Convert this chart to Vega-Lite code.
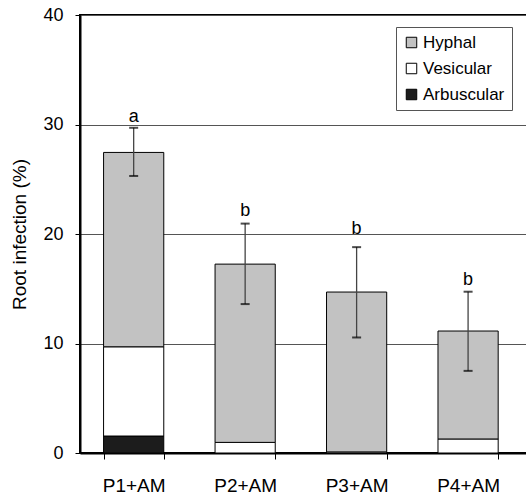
{
  "$schema": "https://vega.github.io/schema/vega-lite/v6.json",
  "width": 447,
  "height": 438,
  "autosize": "none",
  "padding": {"left": 80, "top": 15, "right": 0, "bottom": 42},
  "config": {
    "font": "Liberation Sans",
    "view": {"stroke": "#000", "strokeWidth": 2}
  },
  "datasets": {
    "parts": [
      {"treatment": "P1+AM", "type": "Arbuscular", "lo": 0, "hi": 1.55},
      {"treatment": "P1+AM", "type": "Vesicular", "lo": 1.55, "hi": 9.7},
      {"treatment": "P1+AM", "type": "Hyphal", "lo": 9.7, "hi": 27.45},
      {"treatment": "P2+AM", "type": "Arbuscular", "lo": 0, "hi": 0},
      {"treatment": "P2+AM", "type": "Vesicular", "lo": 0, "hi": 0.97},
      {"treatment": "P2+AM", "type": "Hyphal", "lo": 0.97, "hi": 17.25},
      {"treatment": "P3+AM", "type": "Arbuscular", "lo": 0, "hi": 0},
      {"treatment": "P3+AM", "type": "Vesicular", "lo": 0, "hi": 0.1},
      {"treatment": "P3+AM", "type": "Hyphal", "lo": 0.1, "hi": 14.7},
      {"treatment": "P4+AM", "type": "Arbuscular", "lo": 0, "hi": 0},
      {"treatment": "P4+AM", "type": "Vesicular", "lo": 0, "hi": 1.28},
      {"treatment": "P4+AM", "type": "Hyphal", "lo": 1.28, "hi": 11.14}
    ],
    "errs": [
      {"treatment": "P1+AM", "elo": 25.3, "ehi": 29.7, "letter": "a", "ly": 30.7},
      {"treatment": "P2+AM", "elo": 13.6, "ehi": 20.95, "letter": "b", "ly": 22.1},
      {"treatment": "P3+AM", "elo": 10.55, "ehi": 18.8, "letter": "b", "ly": 20.5},
      {"treatment": "P4+AM", "elo": 7.5, "ehi": 14.73, "letter": "b", "ly": 15.8}
    ]
  },
  "encoding": {
    "x": {
      "field": "treatment",
      "type": "nominal",
      "sort": ["P1+AM", "P2+AM", "P3+AM", "P4+AM"],
      "scale": {"paddingInner": 0.46, "paddingOuter": 0.235, "align": 0.45},
      "axis": {
        "title": null,
        "labelAngle": 0,
        "labelFontSize": 19,
        "labelColor": "#000",
        "labelPadding": 17,
        "tickBand": "extent",
        "tickSize": 6,
        "tickColor": "#000",
        "domainColor": "#000",
        "domainWidth": 2,
        "grid": false
      }
    }
  },
  "layer": [
    {
      "data": {"name": "parts"},
      "mark": {"type": "bar", "stroke": "#000", "strokeWidth": 1},
      "encoding": {
        "y": {
          "field": "lo",
          "type": "quantitative",
          "scale": {"domain": [0, 40]},
          "axis": {
            "title": "Root infection (%)",
            "titleFontSize": 19,
            "titleFontWeight": "normal",
            "titleColor": "#000",
            "titlePadding": 13,
            "values": [0, 10, 20, 30, 40],
            "labelFontSize": 18,
            "labelColor": "#000",
            "labelPadding": 12,
            "tickSize": 5,
            "tickColor": "#000",
            "domainColor": "#000",
            "domainWidth": 2,
            "grid": true,
            "gridColor": "#555",
            "gridWidth": 1
          }
        },
        "y2": {"field": "hi"},
        "color": {
          "field": "type",
          "type": "nominal",
          "scale": {
            "domain": ["Hyphal", "Vesicular", "Arbuscular"],
            "range": ["#c2c2c2", "#ffffff", "#1c1c1c"]
          },
          "legend": {
            "title": null,
            "orient": "none",
            "legendX": 316,
            "legendY": 12,
            "padding": 7,
            "strokeColor": "#555",
            "fillColor": "#fff",
            "labelFontSize": 17,
            "labelColor": "#000",
            "symbolType": "square",
            "symbolSize": 110,
            "symbolStrokeColor": "#000",
            "symbolStrokeWidth": 1,
            "rowPadding": 8,
            "labelOffset": 3
          }
        }
      }
    },
    {
      "data": {"name": "errs"},
      "mark": {"type": "rule", "color": "#444", "strokeWidth": 1.3},
      "encoding": {
        "y": {"field": "elo", "type": "quantitative"},
        "y2": {"field": "ehi"}
      }
    },
    {
      "data": {"name": "errs"},
      "mark": {"type": "tick", "color": "#000", "size": 9, "thickness": 2},
      "encoding": {"y": {"field": "elo", "type": "quantitative"}}
    },
    {
      "data": {"name": "errs"},
      "mark": {"type": "tick", "color": "#000", "size": 9, "thickness": 2},
      "encoding": {"y": {"field": "ehi", "type": "quantitative"}}
    },
    {
      "data": {"name": "errs"},
      "mark": {"type": "text", "fontSize": 18, "color": "#000", "baseline": "middle"},
      "encoding": {
        "y": {"field": "ly", "type": "quantitative"},
        "text": {"field": "letter"}
      }
    }
  ]
}
